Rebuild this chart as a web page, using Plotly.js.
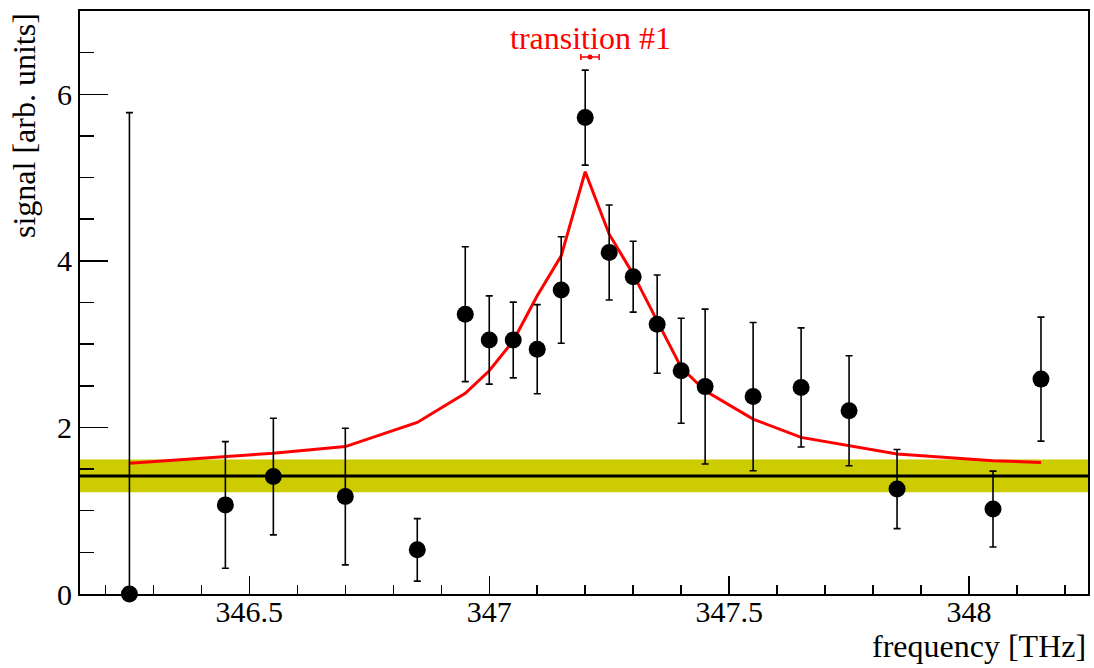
<!DOCTYPE html>
<html>
<head>
<meta charset="utf-8">
<script src="https://cdn.plot.ly/plotly-3.0.1.min.js"></script>
<style>
  html, body { margin: 0; padding: 0; background: #fff; }
  #chart { width: 1094px; height: 668px; }
</style>
</head>
<body>
<div id="chart"></div>
<script>
// frequency of each measurement [THz]
const freq = [346.25, 346.45, 346.55, 346.70, 346.85, 346.95, 347.00, 347.05, 347.10, 347.15, 347.20,
              347.25, 347.30, 347.35, 347.40, 347.45, 347.55, 347.65, 347.75, 347.85, 348.05, 348.15];
// measured signal [arb. units]
const signal = [0.00, 1.07, 1.41, 1.17, 0.53, 3.36, 3.05, 3.05, 2.94, 3.65, 5.72,
                4.10, 3.81, 3.24, 2.68, 2.49, 2.37, 2.48, 2.20, 1.26, 1.02, 2.58];
// symmetric errors of the signal
const signalErr = [5.78, 0.76, 0.70, 0.82, 0.375, 0.81, 0.53, 0.455, 0.535, 0.64, 0.57,
                   0.57, 0.425, 0.59, 0.63, 0.93, 0.89, 0.715, 0.66, 0.475, 0.455, 0.745];
// fitted curve evaluated at the measurement frequencies
const fit = [1.57, 1.65, 1.69, 1.77, 2.06, 2.41, 2.68, 3.04, 3.58, 4.06, 5.07,
             4.32, 3.84, 3.28, 2.72, 2.44, 2.10, 1.88, 1.78, 1.68, 1.60, 1.58];
// background level and its uncertainty band
const background = 1.418;
const backgroundErr = 0.196;
// fitted transition position
const transitionLabel = ["transition #1"];
const transitionX = [347.210];
const transitionXErr = [0.019];
const transitionY = [6.447];
// axes
const xRange = [346.147, 348.248];
const yRange = [0, 7];
const xTickVals = [346.5, 347, 347.5, 348];
const xTickText = ["346.5", "347", "347.5", "348"];
const yTickVals = [0, 2, 4, 6];
const yTickText = ["0", "2", "4", "6"];

const FONT = "Liberation Serif";

const traces = [
  {
    x: freq, y: fit, type: "scatter", mode: "lines",
    line: { color: "#ff0000", width: 3 }, hoverinfo: "skip", showlegend: false
  },
  {
    x: freq, y: signal, type: "scatter", mode: "markers",
    marker: { size: 2, color: "#000" }, cliponaxis: true,
    error_y: { type: "data", array: signalErr, symmetric: true, color: "#000", thickness: 1.6, width: 3.5 },
    showlegend: false
  },
  {
    x: freq, y: signal, type: "scatter", mode: "markers",
    marker: { size: 17, color: "#000", symbol: "circle" }, cliponaxis: false,
    showlegend: false
  },
  {
    x: transitionX, y: transitionY, type: "scatter", mode: "markers",
    marker: { size: 5, color: "#ff0000" }, cliponaxis: false,
    error_x: { type: "data", array: transitionXErr, symmetric: true, color: "#ff0000", thickness: 1.6, width: 3 },
    showlegend: false
  }
];

const layout = {
  width: 1094, height: 668,
  margin: { l: 80, r: 6, t: 11, b: 74 },
  paper_bgcolor: "#fff", plot_bgcolor: "#fff",
  font: { family: FONT, size: 30, color: "#000" },
  showlegend: false,
  xaxis: {
    range: xRange, showgrid: false, zeroline: false,
    showline: true, mirror: true, linecolor: "#000", linewidth: 2,
    ticks: "inside", ticklen: 18, tickwidth: 1.5, tickcolor: "#000",
    tickmode: "array", tickvals: xTickVals, ticktext: xTickText,
    tickfont: { family: FONT, size: 30, color: "#000" },
    ticklabelstandoff: -10,
    minor: { dtick: 0.1, tick0: 346.0, ticks: "inside", ticklen: 9, tickwidth: 1.5, tickcolor: "#000", showgrid: false }
  },
  yaxis: {
    range: yRange, showgrid: false, zeroline: false,
    showline: true, mirror: true, linecolor: "#000", linewidth: 2,
    ticks: "inside", ticklen: 28, tickwidth: 1.5, tickcolor: "#000",
    tickmode: "array", tickvals: yTickVals, ticktext: yTickText,
    tickfont: { family: FONT, size: 30, color: "#000" },
    minor: { dtick: 0.5, tick0: 0, ticks: "inside", ticklen: 14, tickwidth: 1.5, tickcolor: "#000", showgrid: false }
  },
  shapes: [
    {
      type: "rect", xref: "paper", yref: "y", x0: 0, x1: 1,
      y0: background - backgroundErr, y1: background + backgroundErr,
      fillcolor: "#cccc00", line: { width: 0 }, layer: "below"
    },
    {
      type: "line", xref: "paper", yref: "y", x0: 0, x1: 1,
      y0: background, y1: background,
      line: { color: "#000", width: 3 }, layer: "below"
    }
  ],
  annotations: [
    {
      text: "frequency [THz]", xref: "paper", yref: "paper",
      x: 1.0, xanchor: "right", y: -0.055, yanchor: "top",
      showarrow: false, font: { family: FONT, size: 32, color: "#000" }
    },
    {
      text: "signal [arb. units]", xref: "paper", yref: "paper",
      x: -0.056, xanchor: "center", y: 1.0, yanchor: "top", textangle: -90,
      showarrow: false, font: { family: FONT, size: 32, color: "#000" }
    },
    {
      text: transitionLabel[0], xref: "x", yref: "y",
      x: transitionX[0], y: transitionY[0], xanchor: "center", yanchor: "bottom", yshift: -1,
      showarrow: false, font: { family: FONT, size: 32, color: "#ff0000" }
    }
  ]
};

Plotly.newPlot("chart", traces, layout, { displayModeBar: false, staticPlot: true });
</script>
</body>
</html>
